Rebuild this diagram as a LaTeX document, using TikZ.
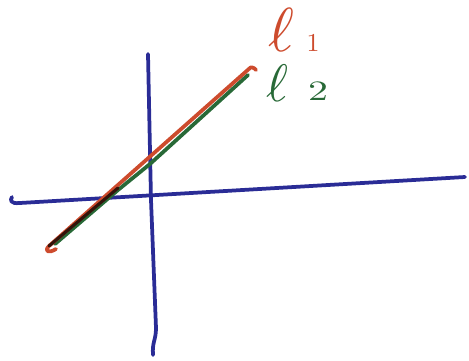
\documentclass[tikz,border=0pt]{standalone}
\usepackage{graphicx}
\definecolor{penblue}{RGB}{42,44,150}
\definecolor{penred}{RGB}{205,75,45}
\definecolor{pengreen}{RGB}{40,105,55}
\tikzset{
  pen/.style={line width=3.2pt,line cap=round,line join=round},
  lbl/.style={inner sep=0pt}
}
\begin{document}
\begin{tikzpicture}[x=0.03cm,y=-0.03cm]
  \useasboundingbox (0,0) rectangle (469,361);
  % axes
  \coordinate (xl) at (10,200);
  \coordinate (xr) at (465,177);
  \coordinate (yt) at (148,54);
  \coordinate (yb) at (153,355);
  \draw[pen,penblue] (xl) ++(2,-3) .. controls (xl) and (10,204) .. (20,203) -- (xr);
  \draw[pen,penblue] (yt) -- (151,200) -- (156,328) .. controls (156,340) and (152,342) .. (yb);
  % the two lines
  \coordinate (g1) at (248,75);
  \coordinate (r1) at (250,68);
  \coordinate (r0) at (49,246);
  \draw[pen,pengreen] (g1) -- (150,164) -- (118,190) -- (55,244);
  \draw[pen,penred] (256,70) .. controls (254,67) and (250,67) .. (r1) -- (r0)
    .. controls (44,251) and (48,254) .. (56,249);
  \draw[pen,black!75!penred,line width=2.6pt] (118,188) -- (r0);
  % labels
  \node[lbl,penred] (l1) at (281,30) {\scalebox{5.3}{$\ell$}};
  \node[lbl,penred] (n1) at (313,43) {\scalebox{2.2}{$1$}};
  \node[lbl,pengreen] (l2) at (277,83) {\scalebox{4.5}{$\ell$}};
  \node[lbl,pengreen] (n2) at (318,91) {\scalebox{3.4}[2.4]{$2$}};
\end{tikzpicture}
\end{document}
